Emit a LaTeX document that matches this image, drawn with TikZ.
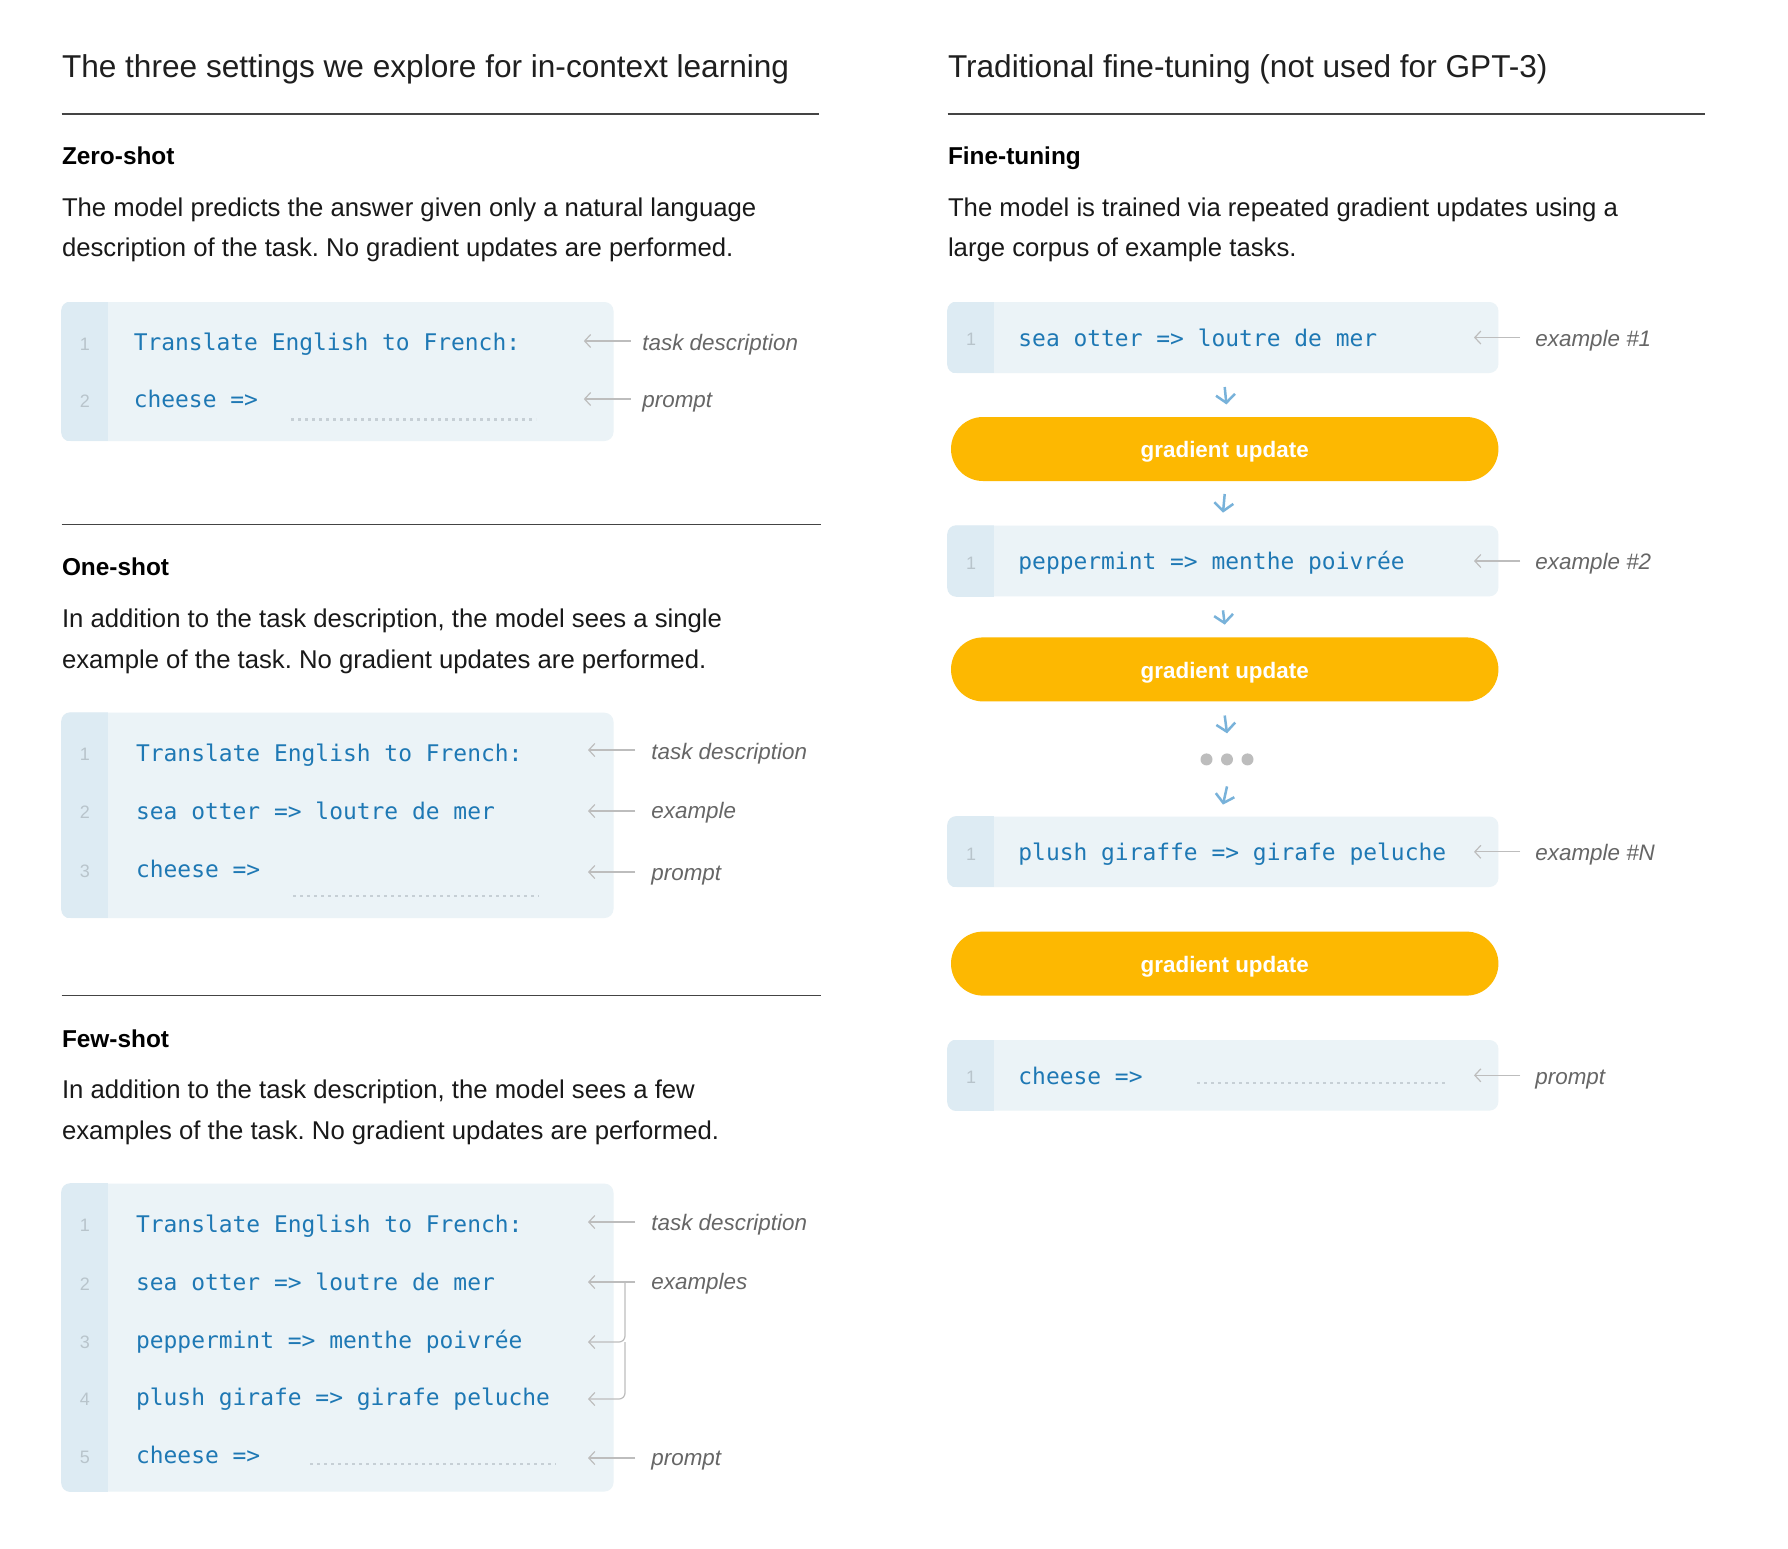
\documentclass[tikz,border=0pt]{standalone}
\usepackage{fontspec}
\setmainfont{Liberation Sans}
\newfontfamily\codefont{DejaVu Sans Mono}
\usetikzlibrary{arrows.meta}
\frenchspacing
\definecolor{boxbg}{HTML}{EBF3F7}
\definecolor{gutter}{HTML}{DDEBF3}
\definecolor{codeblue}{HTML}{1E78B4}
\definecolor{lnumgray}{HTML}{B8C4CB}
\definecolor{lblgray}{HTML}{666666}
\definecolor{arrowgray}{HTML}{BDBDBD}
\definecolor{downblue}{HTML}{78B2DA}
\definecolor{pillorange}{HTML}{FDB801}
\definecolor{dotline}{HTML}{C6CFD5}
\definecolor{rulegray}{HTML}{444444}
\definecolor{dotgray}{HTML}{BDBDBD}
\newcommand{\pilltext}[1]{\raisebox{-4.4pt}[0pt][0pt]{#1}}
\begin{document}
\begin{tikzpicture}[x=0.5pt,y=-0.5pt,
  header/.style={anchor=mid west, inner sep=0, yshift=-3.3pt, text=black!88, font=\fontsize{15.8}{19}\selectfont},
  titletext/.style={anchor=mid west, inner sep=0, yshift=-2pt, text=black, font=\bfseries\fontsize{12.2}{15}\selectfont},
  desc/.style={anchor=mid west, inner sep=0, yshift=-2pt, text=black!90, font=\fontsize{12.85}{15}\selectfont},
  code/.style={anchor=mid west, inner sep=0, yshift=-1.8pt, text=codeblue, font=\codefont\fontsize{11.46}{14}\selectfont},
  lnum/.style={anchor=mid, inner sep=0, yshift=-1.5pt, text=lnumgray, font=\fontsize{9}{11}\selectfont},
  lbl/.style={anchor=mid west, inner sep=0, yshift=-1.8pt, text=lblgray, font=\itshape\fontsize{11.2}{14}\selectfont},
  lblarrow/.style={draw=arrowgray, line width=0.6pt, -{Straight Barb[length=3pt,width=6.5pt]}},
  bracket/.style={draw=arrowgray, line width=0.6pt, rounded corners=3pt},
  downarrow/.style={draw=downblue, line width=1.25pt, -{Straight Barb[length=4pt,width=9.5pt]}},
  rulefine/.style={draw=rulegray, line width=0.9pt},
  dotted line/.style={draw=dotline, line width=1.4pt, dash pattern=on 1.4pt off 2.1pt},
  pill/.style={fill=pillorange, rounded corners=16pt, minimum width=273.7pt, minimum height=32pt, inner sep=0, text=white, font=\bfseries\fontsize{11.2}{13}\selectfont},
  codebox/.style={fill=boxbg, rounded corners=4.5pt, inner sep=0},
  dot/.style={circle, fill=dotgray, minimum size=6pt, inner sep=0}
]
\useasboundingbox (0,0) rectangle (1788,1548);
\fill[white] (0,0) rectangle (1788,1548);

% ---------- left column ----------
\node[header] (hdrL) at (61.6,66) {The three settings we explore for in-context learning};
\coordinate (r1a) at (61.6,114); \coordinate (r1b) at (818.7,114);
\draw[rulefine] (r1a) -- (r1b);

\node[titletext] (zsT) at (61.6,155) {Zero-shot};
\node[desc] (zsD1) at (61.6,207.5) {The model predicts the answer given only a natural language};
\node[desc] (zsD2) at (61.6,247.4) {description of the task. No gradient updates are performed.};

% zero-shot box
\node[codebox, minimum width=275.95pt, minimum height=69.5pt] (zsB) at (337.55,371.5) {};
\begin{scope}
  \clip[rounded corners=4.5pt] (zsB.north west) rectangle (zsB.south east);
  \fill[gutter] (zsB.north west) rectangle ([xshift=23.35pt]zsB.south west);
\end{scope}
\node[lnum] (zsN1) at (85,342) {1};
\node[lnum] (zsN2) at (85,399) {2};
\node[code] (zsC1) at (133.4,342) {Translate English to French:};
\node[code] (zsC2) at (133.4,399) {cheese =>};
\coordinate (zsDa) at (291,419.6); \coordinate (zsDb) at (536,419.6);
\draw[dotted line] (zsDa) -- (zsDb);
\node[lbl] (zsL1) at (642,342) {task description};
\node[lbl] (zsL2) at (642,399) {prompt};
\coordinate (zsA1s) at (630.6,341); \coordinate (zsA1e) at (583.8,341);
\coordinate (zsA2s) at (630.6,399); \coordinate (zsA2e) at (583.8,399);
\draw[lblarrow] (zsA1s) -- (zsA1e);
\draw[lblarrow] (zsA2s) -- (zsA2e);

% one-shot
\coordinate (r2a) at (61.6,524.5); \coordinate (r2b) at (821,524.5);
\draw[rulefine] (r2a) -- (r2b);
\node[titletext] (osT) at (61.6,566.7) {One-shot};
\node[desc] (osD1) at (61.6,618) {In addition to the task description, the model sees a single};
\node[desc] (osD2) at (61.6,659) {example of the task. No gradient updates are performed.};

\node[codebox, minimum width=275.95pt, minimum height=102.65pt] (osB) at (337.55,815.35) {};
\begin{scope}
  \clip[rounded corners=4.5pt] (osB.north west) rectangle (osB.south east);
  \fill[gutter] (osB.north west) rectangle ([xshift=23.35pt]osB.south west);
\end{scope}
\node[lnum] (osN1) at (85,752.6) {1};
\node[lnum] (osN2) at (85,810.7) {2};
\node[lnum] (osN3) at (85,868.9) {3};
\node[code] (osC1) at (135.7,752.6) {Translate English to French:};
\node[code] (osC2) at (135.7,810.7) {sea otter => loutre de mer};
\node[code] (osC3) at (135.7,868.9) {cheese =>};
\coordinate (osDa) at (293,896); \coordinate (osDb) at (539,896);
\draw[dotted line] (osDa) -- (osDb);
\node[lbl] (osL1) at (651,751) {task description};
\node[lbl] (osL2) at (651,810) {example};
\node[lbl] (osL3) at (651,872) {prompt};
\coordinate (osA1s) at (635,750); \coordinate (osA1e) at (588,750);
\coordinate (osA2s) at (635,811); \coordinate (osA2e) at (588,811);
\coordinate (osA3s) at (635,872); \coordinate (osA3e) at (588,872);
\draw[lblarrow] (osA1s) -- (osA1e);
\draw[lblarrow] (osA2s) -- (osA2e);
\draw[lblarrow] (osA3s) -- (osA3e);

% few-shot
\coordinate (r3a) at (61.6,995.5); \coordinate (r3b) at (821,995.5);
\draw[rulefine] (r3a) -- (r3b);
\node[titletext] (fsT) at (61.6,1037.7) {Few-shot};
\node[desc] (fsD1) at (61.6,1089) {In addition to the task description, the model sees a few};
\node[desc] (fsD2) at (61.6,1130) {examples of the task. No gradient updates are performed.};

\node[codebox, minimum width=275.95pt, minimum height=153.95pt] (fsB) at (337.55,1337.55) {};
\begin{scope}
  \clip[rounded corners=4.5pt] (fsB.north west) rectangle (fsB.south east);
  \fill[gutter] (fsB.north west) rectangle ([xshift=23.35pt]fsB.south west);
\end{scope}
\node[lnum] (fsN1) at (85,1223.5) {1};
\node[lnum] (fsN2) at (85,1281.7) {2};
\node[lnum] (fsN3) at (85,1339.8) {3};
\node[lnum] (fsN4) at (85,1396.9) {4};
\node[lnum] (fsN5) at (85,1455) {5};
\node[code] (fsC1) at (135.7,1223.5) {Translate English to French:};
\node[code] (fsC2) at (135.7,1281.7) {sea otter => loutre de mer};
\node[code] (fsC3) at (135.7,1339.8) {peppermint => menthe poivrée};
\node[code] (fsC4) at (135.7,1396.9) {plush girafe => girafe peluche};
\node[code] (fsC5) at (135.7,1455) {cheese =>};
\coordinate (fsDa) at (310,1464); \coordinate (fsDb) at (556,1464);
\draw[dotted line] (fsDa) -- (fsDb);
\node[lbl] (fsL1) at (651,1222) {task description};
\node[lbl] (fsL2) at (651,1281) {examples};
\node[lbl] (fsL3) at (651,1457) {prompt};
\coordinate (fsA1s) at (635,1222); \coordinate (fsA1e) at (588,1222);
\coordinate (fsA2s) at (635,1282); \coordinate (fsA2e) at (588,1282);
\coordinate (fsBr) at (625,1282);
\coordinate (fsA3e) at (588,1342);
\coordinate (fsBr3) at (625,1342);
\coordinate (fsA4e) at (588,1399);
\coordinate (fsA5s) at (635,1458); \coordinate (fsA5e) at (588,1458);
\draw[lblarrow] (fsA1s) -- (fsA1e);
\draw[lblarrow] (fsA2s) -- (fsA2e);
\draw[bracket, -{Straight Barb[length=3pt,width=6.5pt]}] (fsBr) |- (fsA3e);
\draw[bracket, -{Straight Barb[length=3pt,width=6.5pt]}] (fsBr3) |- (fsA4e);
\draw[lblarrow] (fsA5s) -- (fsA5e);

% ---------- right column ----------
\node[header] (hdrR) at (947.6,66) {Traditional fine-tuning (not used for GPT-3)};
\coordinate (rRa) at (947.6,114); \coordinate (rRb) at (1704.8,114);
\draw[rulefine] (rRa) -- (rRb);
\node[titletext] (ftT) at (947.6,155) {Fine-tuning};
\node[desc] (ftD1) at (947.6,207.5) {The model is trained via repeated gradient updates using a};
\node[desc] (ftD2) at (947.6,247.4) {large corpus of example tasks.};

% example #1
\node[codebox, minimum width=275.4pt, minimum height=35.5pt] (e1B) at (1223,337.5) {};
\begin{scope}
  \clip[rounded corners=4.5pt] (e1B.north west) rectangle (e1B.south east);
  \fill[gutter] (e1B.north west) rectangle ([xshift=23.2pt]e1B.south west);
\end{scope}
\node[lnum] (e1N) at (971,337.5) {1};
\node[code] (e1C) at (1018,337.5) {sea otter => loutre de mer};
\node[lbl] (e1L) at (1535,337.5) {example \#1};
\coordinate (e1As) at (1520,337.5); \coordinate (e1Ae) at (1474,337.5);
\draw[lblarrow] (e1As) -- (e1Ae);

\node[pill] (g1) at (1224.7,449) {\pilltext{gradient update}};

% example #2
\node[codebox, minimum width=275.4pt, minimum height=35.35pt] (e2B) at (1223,561) {};
\begin{scope}
  \clip[rounded corners=4.5pt] (e2B.north west) rectangle (e2B.south east);
  \fill[gutter] (e2B.north west) rectangle ([xshift=23.2pt]e2B.south west);
\end{scope}
\node[lnum] (e2N) at (971,561) {1};
\node[code] (e2C) at (1018,561) {peppermint => menthe poivrée};
\node[lbl] (e2L) at (1535,561) {example \#2};
\coordinate (e2As) at (1520,561); \coordinate (e2Ae) at (1474,561);
\draw[lblarrow] (e2As) -- (e2Ae);

\node[pill] (g2) at (1224.7,669.4) {\pilltext{gradient update}};

% dots
\node[dot] (d1) at (1206.5,759.4) {};
\node[dot] (d2) at (1227,759.4) {};
\node[dot] (d3) at (1247.5,759.4) {};

% example #N
\node[codebox, minimum width=275.4pt, minimum height=35.25pt] (eNB) at (1223,851.75) {};
\begin{scope}
  \clip[rounded corners=4.5pt] (eNB.north west) rectangle (eNB.south east);
  \fill[gutter] (eNB.north west) rectangle ([xshift=23.2pt]eNB.south west);
\end{scope}
\node[lnum] (eNN) at (971,851.8) {1};
\node[code] (eNC) at (1018,851.8) {plush giraffe => girafe peluche};
\node[lbl] (eNL) at (1535,851.8) {example \#N};
\coordinate (eNAs) at (1520,851.8); \coordinate (eNAe) at (1474,851.8);
\draw[lblarrow] (eNAs) -- (eNAe);

\node[pill] (g3) at (1224.7,963.6) {\pilltext{gradient update}};

% prompt
\node[codebox, minimum width=275.4pt, minimum height=35.3pt] (pB) at (1223,1075.3) {};
\begin{scope}
  \clip[rounded corners=4.5pt] (pB.north west) rectangle (pB.south east);
  \fill[gutter] (pB.north west) rectangle ([xshift=23.2pt]pB.south west);
\end{scope}
\node[lnum] (pN) at (971,1075.3) {1};
\node[code] (pC) at (1018,1075.3) {cheese =>};
\coordinate (pDa) at (1197,1083); \coordinate (pDb) at (1446,1083);
\draw[dotted line] (pDa) -- (pDb);
\node[lbl] (pL) at (1535,1075.3) {prompt};
\coordinate (pAs) at (1520,1075.3); \coordinate (pAe) at (1474,1075.3);
\draw[lblarrow] (pAs) -- (pAe);

% down arrows
\draw[downarrow] ([xshift=0.85pt,yshift=-6.8pt]e1B.south) -- ([xshift=0.85pt,yshift=6.1pt]g1.north);
\draw[downarrow] ([yshift=-6.3pt]g1.south) -- ([yshift=6.3pt]e2B.north);
\draw[downarrow] ([yshift=-6.8pt]e2B.south) -- ([yshift=6.2pt]g2.north);
\draw[downarrow] ([yshift=-6.85pt]g2.south) -- ([yshift=9.85pt]d2.north);
\draw[downarrow] ([yshift=-10.3pt]d2.south) -- ([yshift=5.75pt]eNB.north);
\end{tikzpicture}
\end{document}
